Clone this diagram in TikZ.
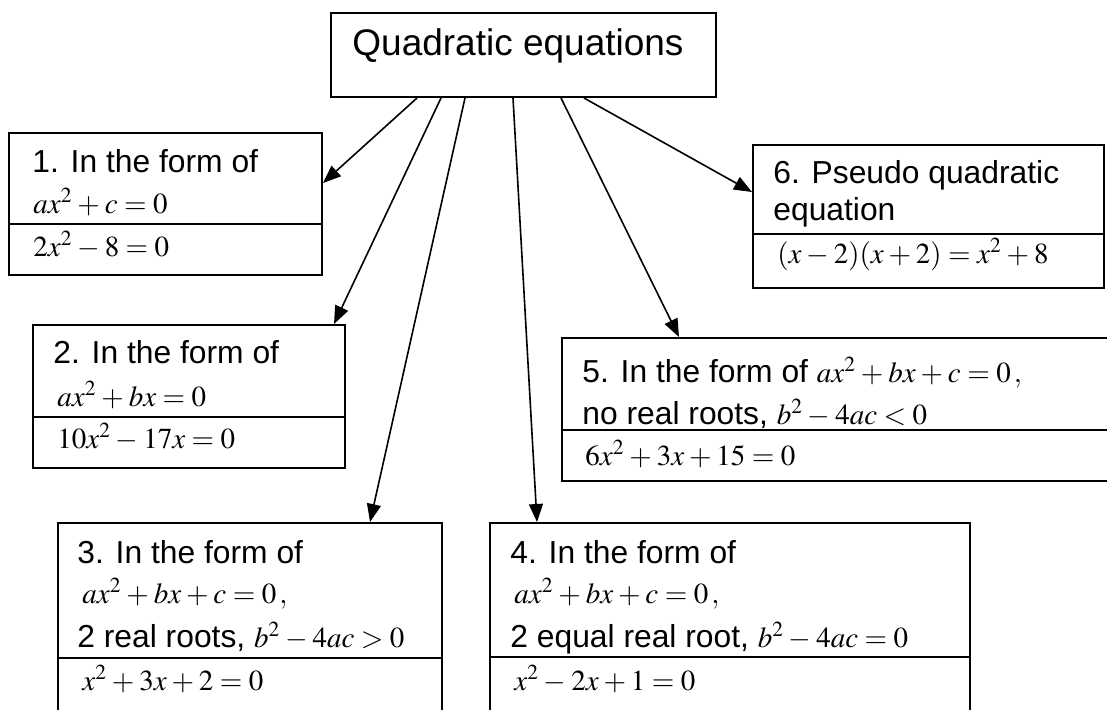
\documentclass[tikz,border=0pt]{standalone}
\usepackage{mathptmx}
\usepackage[no-math]{fontspec}
\setmainfont{Liberation Sans}
\usetikzlibrary{arrows.meta, calc}

\newcommand{\eq}[1]{{\fontsize{14.5}{17}\selectfont$\medmuskip=3mu\thickmuskip=4mu #1$}}

\tikzset{
  box/.style={draw, line width=1pt, anchor=north west, inner sep=0pt},
  txt/.style={anchor=base west, inner sep=0pt, font=\fontsize{15.9}{19}\selectfont},
  arr/.style={line width=0.8pt, -{Triangle[length=9pt,width=7pt]}},
  divider/.style={line width=1pt},
}

\begin{document}
\begin{tikzpicture}[x=0.5pt, y=-0.5pt]
\useasboundingbox (0,0) rectangle (1107,709);
\clip (0,0) rectangle (1107,709);

% Title
\node[box, minimum width=192.5pt, minimum height=42pt] (title) at (330,12) {};
\node[anchor=base west, inner sep=0pt, font=\fontsize{18.5}{22}\selectfont] (ttl) at (352,55) {Quadratic equations};

% 1. ax^2+c=0
\node[box, minimum width=156.5pt, minimum height=71pt] (b1) at (8,132) {};
\draw[divider] (8,224) -- (321,224);
\node[txt] (b1a) at (32,172) {1. In the form of};
\node[txt] (b1b) at (33,213) {\eq{ax^2+c=0}};
\node[txt] (b1c) at (33,256) {\eq{2x^2-8=0}};

% 2. ax^2+bx=0
\node[box, minimum width=156pt, minimum height=71.5pt] (b2) at (32,324) {};
\draw[divider] (32,417) -- (344,417);
\node[txt] (b2a) at (53,363) {2. In the form of};
\node[txt] (b2b) at (57,406) {\eq{ax^2+bx=0}};
\node[txt] (b2c) at (57,448) {\eq{10x^2-17x=0}};

% 3. two real roots
\node[box, minimum width=192pt, minimum height=109pt] (b3) at (57,522) {};
\draw[divider] (57,658) -- (441,658);
\node[txt] (b3a) at (77,563) {3. In the form of};
\node[txt] (b3b) at (82,603) {\eq{ax^2+bx+c=0\,,}};
\node[txt] (b3c) at (77,647) {2 real roots, \eq{b^2-4ac>0}};
\node[txt] (b3d) at (82,690) {\eq{x^2+3x+2=0}};

% 4. equal roots
\node[box, minimum width=240pt, minimum height=109pt] (b4) at (489,522) {};
\draw[divider] (489,657) -- (971,657);
\node[txt] (b4a) at (510,563) {4. In the form of};
\node[txt] (b4b) at (514,603) {\eq{ax^2+bx+c=0\,,}};
\node[txt] (b4c) at (510,647) {2 equal real root, \eq{b^2-4ac=0}};
\node[txt] (b4d) at (514,690) {\eq{x^2-2x+1=0}};

% 5. no real roots
\node[box, minimum width=279.5pt, minimum height=71.5pt] (b5) at (561,337) {};
\draw[divider] (561,430) -- (1107,430);
\node[txt] (b5a) at (582,382) {5. In the form of \eq{ax^2+bx+c=0\,,}};
\node[txt] (b5b) at (582,424) {no real roots, \eq{b^2-4ac<0}};
\node[txt] (b5c) at (585,465) {\eq{6x^2+3x+15=0}};

% 6. pseudo quadratic
\node[box, minimum width=175.5pt, minimum height=71.5pt] (b6) at (752,144) {};
\draw[divider] (752,234) -- (1103,234);
\node[txt] (b6a) at (773,183) {6. Pseudo quadratic};
\node[txt] (b6b) at (773,220) {equation};
\node[txt] (b6c) at (777,263) {\eq{(x-2)(x+2)=x^2+8}};

% Arrows
\draw[arr] ($(title.south west)+(87,0)$) -- ($(b1.north east)+(0,51)$);
\draw[arr] ($(title.south west)+(111,0)$) -- ($(b2.north east)+(-12,0)$);
\draw[arr] ($(title.south west)+(135,0)$) -- ($(b3.north west)+(313,0)$);
\draw[arr] ($(title.south west)+(183,0)$) -- ($(b4.north west)+(48,0)$);
\draw[arr] ($(title.south west)+(231,0)$) -- ($(b5.north west)+(118,0)$);
\draw[arr] ($(title.south west)+(254,0)$) -- ($(b6.north west)+(0,48)$);

\end{tikzpicture}
\end{document}
